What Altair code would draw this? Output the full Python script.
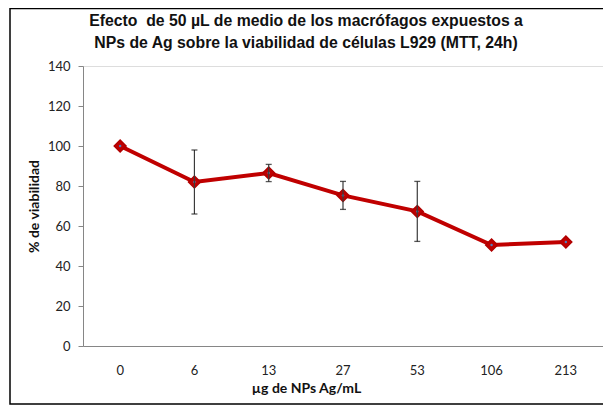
import altair as alt
import pandas as pd

conc = ["0", "6", "13", "27", "53", "106", "213"]
viab = [100, 82, 86.5, 75.3, 67.3, 50.5, 52]
err = [0, 16, 4.3, 7, 15, 0, 0]
y_ticks = [0, 20, 40, 60, 80, 100, 120, 140]
title_lines = ["Efecto\u00a0 de 50 µL de medio de los macrófagos expuestos a",
               "NPs de Ag sobre la viabilidad de células L929 (MTT, 24h)"]

df = pd.DataFrame({"conc": conc, "viab": viab, "err": err})
df["lo"] = df["viab"] - df["err"]
df["hi"] = df["viab"] + df["err"]

W, H = 520, 280
tick_font = "Lato"
y_title = "% de viabilidad"

x_axis = alt.Axis(labelAngle=0, ticks=False, labelPadding=18,
                  domainColor="#868686", labelFontSize=13,
                  labelColor="#222222", labelFont=tick_font,
                  titleFont=tick_font, titleFontSize=14,
                  titleFontWeight="bold", titleColor="#111111",
                  titlePadding=4, titleX=223, titleAnchor="middle")
y_scale = alt.Scale(domain=[0, 140], nice=False)
y_axis = alt.Axis(values=y_ticks, grid=False, domainColor="#868686",
                  tickColor="#868686", tickSize=5, labelPadding=8,
                  labelOverlap=False,
                  labelFontSize=13, labelColor="#222222", labelFont=tick_font,
                  titleFont=tick_font, titleFontSize=14, titleFontWeight="bold",
                  titleColor="#111111", titlePadding=6)


def xe():
    return alt.X("conc:N", sort=conc, title="µg de NPs Ag/mL", axis=x_axis)


def ye(field):
    return alt.Y(field, scale=y_scale, axis=y_axis, title=y_title)


base = alt.Chart(df)

line = base.mark_line(color="#C00000", strokeWidth=4).encode(x=xe(), y=ye("viab:Q"))

eb_df = df[df["err"] > 0]
ebase = alt.Chart(eb_df)
rules = ebase.mark_rule(color="#3a3a3a", strokeWidth=1.2).encode(
    x=xe(), y=ye("lo:Q"), y2="hi:Q")
cap_lo = ebase.mark_tick(color="#111111", size=6, thickness=1.3).encode(
    x=xe(), y=ye("lo:Q"))
cap_hi = ebase.mark_tick(color="#111111", size=6, thickness=1.3).encode(
    x=xe(), y=ye("hi:Q"))

pts = base.mark_point(shape="diamond", filled=True, size=140, color="#C00000",
                      stroke="#B00000", strokeWidth=1.5, opacity=1).encode(
    x=xe(), y=ye("viab:Q"))
dots = base.mark_point(shape="circle", filled=True, size=6, color="#4F81BD",
                       opacity=1).encode(x=xe(), y=ye("viab:Q"))

one = pd.DataFrame({"a": [0]})
border = alt.Chart(one).mark_rect(
    fill=None, stroke="#000000", strokeWidth=1.5).encode(
    x=alt.value(-73), x2=alt.value(W + 20), y=alt.value(-57.5), y2=alt.value(H + 58))


def title_line(i, ypos):
    return alt.Chart(pd.DataFrame({"t": [title_lines[i]]})).mark_text(
        font="Liberation Sans", fontSize=15.8, fontWeight="bold", color="#111111",
        align="center", baseline="middle").encode(
        text="t:N", x=alt.value(223), y=alt.value(ypos))


chart = alt.layer(border, title_line(0, -45), title_line(1, -23),
                  line, pts, dots, rules, cap_lo, cap_hi).properties(
    width=W, height=H,
    autosize=alt.AutoSizeParams(type="none"),
    padding={"left": 75, "top": 58, "right": 0, "bottom": 60},
).configure_view(stroke=None).configure(background="white")

chart.save("out.html", embed_options={"renderer": "svg", "actions": False})
